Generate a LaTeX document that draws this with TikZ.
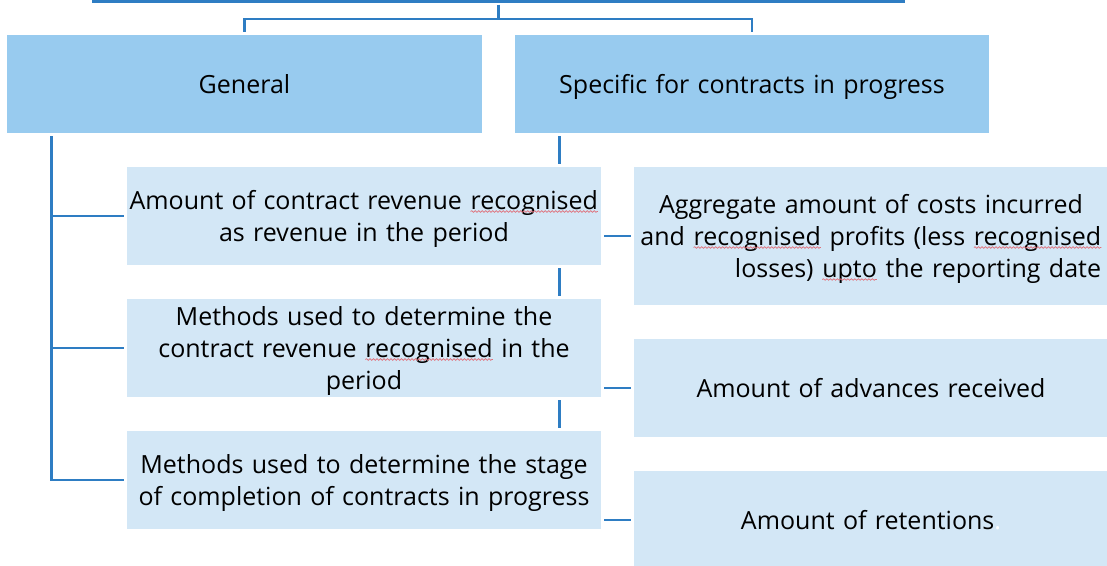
\documentclass[tikz,border=0pt]{standalone}
\usepackage{fontspec}
\setmainfont{Open Sans}
\usetikzlibrary{backgrounds,decorations.pathmorphing}
\definecolor{linkblue}{HTML}{2E7DC3}
\definecolor{headfill}{HTML}{98CBEF}
\definecolor{itemfill}{HTML}{D3E7F6}
\definecolor{spellred}{HTML}{E0707A}
\newcommand\lnstrut{\rule[-7pt]{0pt}{32pt}}
\newcommand\spellmark[1]{\tikz[baseline=(w.base),x=1pt,y=1pt]{%
  \node[inner sep=0pt,outer sep=0pt,draw=none,fill=none,text width={},
    minimum width=0pt,minimum height=0pt] (w) {#1};
  \draw[spellred,line width=0.7pt,decorate,
    decoration={snake,segment length=3.5pt,amplitude=0.8pt}]
    ([yshift=-2.5pt]w.base west) -- ([yshift=-2.5pt]w.base east);}}
\begin{document}
\begin{tikzpicture}[x=1pt,y=-1pt,
    hdr/.style={fill=headfill,draw=white,line width=3pt,minimum width=478pt,
      minimum height=101pt,inner sep=0pt,text width=470pt,align=center,
      font=\fontsize{25}{32}\selectfont,
      execute at begin node=\lnstrut,execute at end node=\lnstrut},
    item/.style={hdr,fill=itemfill,minimum width=477pt},
    link/.style={draw=linkblue,line width=2.5pt}]
  \useasboundingbox (0,0) rectangle (1107,565);
  \node[hdr] (general) at (244.5,84) {General};
  \node[hdr,minimum width=477pt] (specific) at (752,84) {Specific for contracts in progress};
  \node[item] (g1) at (364,216) {Amount of contract revenue \spellmark{recognised}\\as revenue in the period};
  \node[item] (g2) at (364,348) {Methods used to determine the\\contract revenue \spellmark{recognised} in the\\period};
  \node[item] (g3) at (364,480) {Methods used to determine the stage\\of completion of contracts in progress};
  \node[item,minimum height=141pt] (s1) at (871,236) {Aggregate amount of costs incurred\\and \spellmark{recognised} profits (less \spellmark{recognised}\\\hspace*{94pt}losses) \spellmark{upto} the reporting date};
  \node[item] (s2) at (871,388) {Amount of advances received};
  \node[item] (s3) at (871,520) {Amount of retentions\textcolor{white}{.}};
  \coordinate (topL) at (92,1);
  \coordinate (topR) at (905,1);
  \coordinate (topmid) at (498.5,4.5);
  \coordinate (bar) at (498.5,19);
  \begin{scope}[on background layer]
    \draw[link,line width=3pt] (topL) -- (topR);
    \draw[link] (topmid) -- (bar) -| (general.north);
    \draw[link] (bar) -| (specific.north);
    \draw[link] ([xshift=47.5pt]general.south west) |- (g1.west);
    \draw[link] ([xshift=47.5pt]general.south west) |- (g2.west);
    \draw[link] ([xshift=47.5pt]general.south west) |- (g3.west);
    \draw[link] ([xshift=47.5pt]specific.south west) |- (s1.west);
    \draw[link] ([xshift=47.5pt]specific.south west) |- (s2.west);
    \draw[link] ([xshift=47.5pt]specific.south west) |- (s3.west);
  \end{scope}
\end{tikzpicture}
\end{document}
